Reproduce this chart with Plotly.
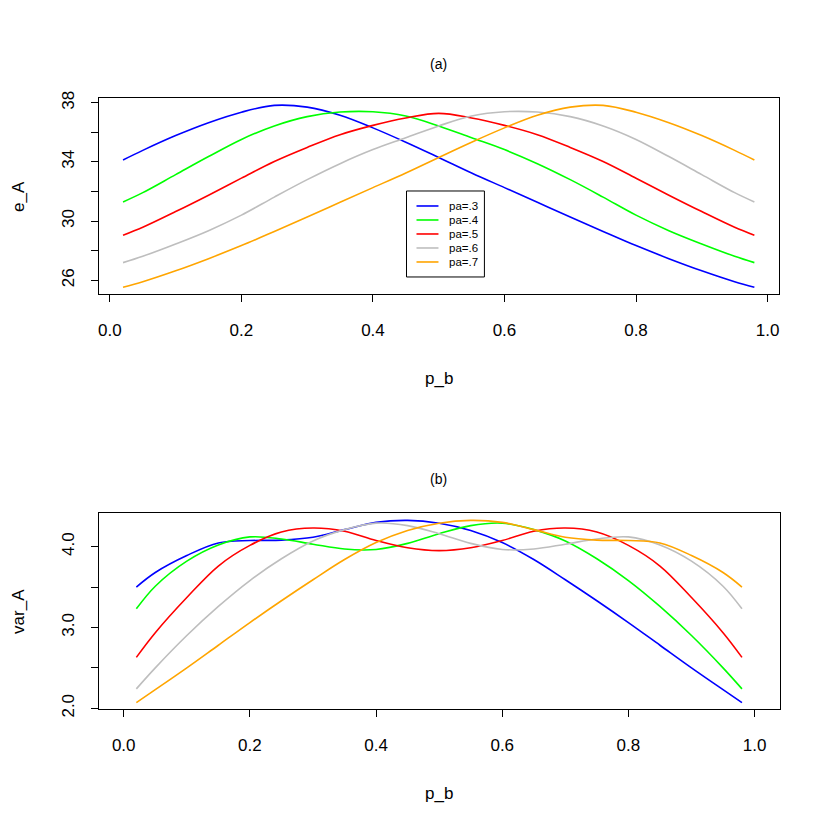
import plotly.graph_objects as go

# ---- data ----
pa_names = ["pa=.3", "pa=.4", "pa=.5", "pa=.6", "pa=.7"]
colors = ["#0000FF", "#00FF00", "#FF0000", "#BEBEBE", "#FFA500"]

pb = [0.02, 0.05, 0.10, 0.15, 0.20, 0.25, 0.30, 0.35, 0.40, 0.45, 0.50,
      0.55, 0.60, 0.65, 0.70, 0.75, 0.80, 0.85, 0.90, 0.95, 0.98]

# (a) e_A vs p_b
eA_3 = [34.13, 34.78, 35.78, 36.65, 37.36, 37.82, 37.70, 37.15, 36.30, 35.33, 34.30,
        33.25, 32.26, 31.27, 30.28, 29.30, 28.34, 27.46, 26.64, 25.90, 25.52]
eA_4 = [31.29, 31.92, 33.14, 34.36, 35.52, 36.43, 37.06, 37.37, 37.39, 37.10, 36.43,
        35.63, 34.83, 33.88, 32.80, 31.62, 30.40, 29.35, 28.45, 27.62, 27.19]
eA_5 = [29.04, 29.58, 30.64, 31.75, 32.90, 34.03, 34.98, 35.84, 36.47, 36.97, 37.28,
        36.97, 36.47, 35.84, 34.98, 34.03, 32.90, 31.75, 30.64, 29.58, 29.04]
eA_6 = [27.19, 27.62, 28.45, 29.35, 30.40, 31.62, 32.80, 33.88, 34.83, 35.63, 36.43,
        37.10, 37.39, 37.37, 37.06, 36.43, 35.52, 34.36, 33.14, 31.92, 31.29]
eA_7 = [25.52, 25.90, 26.64, 27.46, 28.34, 29.30, 30.28, 31.27, 32.26, 33.25, 34.30,
        35.33, 36.30, 37.15, 37.70, 37.82, 37.36, 36.65, 35.78, 34.78, 34.13]

# (b) var_A vs p_b
vA_3 = [3.50, 3.68, 3.89, 4.045, 4.075, 4.08, 4.115, 4.21, 4.30, 4.325, 4.29,
        4.20, 4.05, 3.84, 3.59, 3.33, 3.06, 2.78, 2.50, 2.23, 2.07]
vA_4 = [3.23, 3.51, 3.82, 4.02, 4.12, 4.095, 4.03, 3.97, 3.965, 4.04, 4.16,
        4.26, 4.29, 4.21, 4.07, 3.85, 3.58, 3.26, 2.90, 2.50, 2.24]
vA_5 = [2.63, 2.935, 3.37, 3.76, 4.015, 4.18, 4.23, 4.19, 4.075, 3.985, 3.95,
        3.985, 4.075, 4.19, 4.23, 4.18, 4.015, 3.76, 3.37, 2.935, 2.63]
vA_6 = [2.24, 2.50, 2.90, 3.26, 3.58, 3.85, 4.07, 4.21, 4.29, 4.26, 4.16,
        4.04, 3.965, 3.97, 4.03, 4.095, 4.12, 4.02, 3.82, 3.51, 3.23]
vA_7 = [2.07, 2.23, 2.50, 2.78, 3.06, 3.33, 3.59, 3.84, 4.05, 4.20, 4.29,
        4.325, 4.30, 4.21, 4.115, 4.08, 4.075, 4.045, 3.89, 3.68, 3.50]

xticks = [0.0, 0.2, 0.4, 0.6, 0.8, 1.0]
xtick_text = ["0.0", "0.2", "0.4", "0.6", "0.8", "1.0"]
ya_ticks = [26, 28, 30, 32, 34, 36, 38]
ya_text = ["26", "", "30", "", "34", "", "38"]
yb_ticks = [2.0, 2.5, 3.0, 3.5, 4.0]
yb_text = ["2.0", "", "3.0", "", "4.0"]

W = 830
FONT = "Liberation Sans, Arial, sans-serif"

fig = go.Figure()
for name, col, ys in zip(pa_names, colors, [eA_3, eA_4, eA_5, eA_6, eA_7]):
    fig.add_trace(go.Scatter(x=pb, y=ys, mode="lines", name=name,
                             line=dict(color=col, width=1.6, shape="spline", smoothing=1),
                             xaxis="x", yaxis="y", showlegend=False))
for name, col, ys in zip(pa_names, colors, [vA_3, vA_4, vA_5, vA_6, vA_7]):
    fig.add_trace(go.Scatter(x=pb, y=ys, mode="lines", name=name,
                             line=dict(color=col, width=1.6, shape="spline", smoothing=1),
                             xaxis="x2", yaxis="y2", showlegend=False))

ax_common = dict(showgrid=False, zeroline=False, showline=True, mirror=True,
                 linecolor="black", linewidth=1, ticks="outside", ticklen=7,
                 tickcolor="black", tickwidth=1,
                 tickfont=dict(family=FONT, size=17, color="black"))

def px_x(v):
    return v / W

def px_y(v):
    # the page photo comes out slightly squeezed vertically, undo it
    return 1 - ((v - 6.0) / 0.982) / W

fig.update_layout(
    width=W, height=W,
    paper_bgcolor="white", plot_bgcolor="white",
    margin=dict(l=0, r=0, t=0, b=0),
    xaxis=dict(domain=[px_x(97.7), px_x(779.3)], range=[-0.0172, 1.018], anchor="y",
               tickvals=xticks, ticktext=xtick_text, ticklabelstandoff=13, **ax_common),
    yaxis=dict(domain=[px_y(293.3), px_y(96.7)], range=[25.05, 38.34], anchor="x",
               tickvals=ya_ticks, ticktext=ya_text, tickangle=-90, ticklabelstandoff=10,
               **ax_common),
    xaxis2=dict(domain=[px_x(98), px_x(780)], range=[-0.0394, 1.0404], anchor="y2",
                tickvals=xticks, ticktext=xtick_text, ticklabelstandoff=13, **ax_common),
    yaxis2=dict(domain=[px_y(708.3), px_y(511.7)], range=[1.988, 4.42], anchor="x2",
                tickvals=yb_ticks, ticktext=yb_text, tickangle=-90, ticklabelstandoff=10,
                **ax_common),
    showlegend=False,
)

# legend box (R style: tight rows)
leg_left, leg_top, leg_w, leg_row = 406, 190, 78, 14
fig.add_shape(type="rect", xref="paper", yref="paper",
              x0=px_x(leg_left), x1=px_x(leg_left + leg_w),
              y0=px_y(leg_top + 86), y1=px_y(leg_top),
              line=dict(color="black", width=1), fillcolor="white", layer="above")
for i, (name, col) in enumerate(zip(pa_names, colors)):
    ry = leg_top + 15 + i * leg_row
    fig.add_shape(type="line", xref="paper", yref="paper",
                  x0=px_x(leg_left + 10), x1=px_x(leg_left + 32), y0=px_y(ry), y1=px_y(ry),
                  line=dict(color=col, width=1.6), layer="above")
    fig.add_annotation(xref="paper", yref="paper", x=px_x(leg_left + 41), y=px_y(ry),
                       text=name, showarrow=False, xanchor="left", yanchor="middle",
                       font=dict(family=FONT, size=11.5, color="black"))

txt = dict(family=FONT, color="black")
annos = [
    dict(text="(a)", x=px_x(438.5), y=px_y(63), font=dict(size=14, **txt)),
    dict(text="(b)", x=px_x(438.5), y=px_y(478), font=dict(size=14, **txt)),
    dict(text="p_b", x=px_x(438.5), y=px_y(378), font=dict(size=17, **txt)),
    dict(text="p_b", x=px_x(438.5), y=px_y(793), font=dict(size=17, **txt)),
    dict(text="e_A", x=px_x(18), y=px_y(195), textangle=-90, font=dict(size=17, **txt)),
    dict(text="var_A", x=px_x(18), y=px_y(610), textangle=-90, font=dict(size=17, **txt)),
]
for a in annos:
    fig.add_annotation(xref="paper", yref="paper", showarrow=False,
                       xanchor="center", yanchor="middle", **a)

fig.write_html("out.html", config={"displayModeBar": False},
               post_script="document.body.style.margin='0px';"
                           "document.body.style.overflow='hidden';"
                           "document.documentElement.style.overflow='hidden';")
